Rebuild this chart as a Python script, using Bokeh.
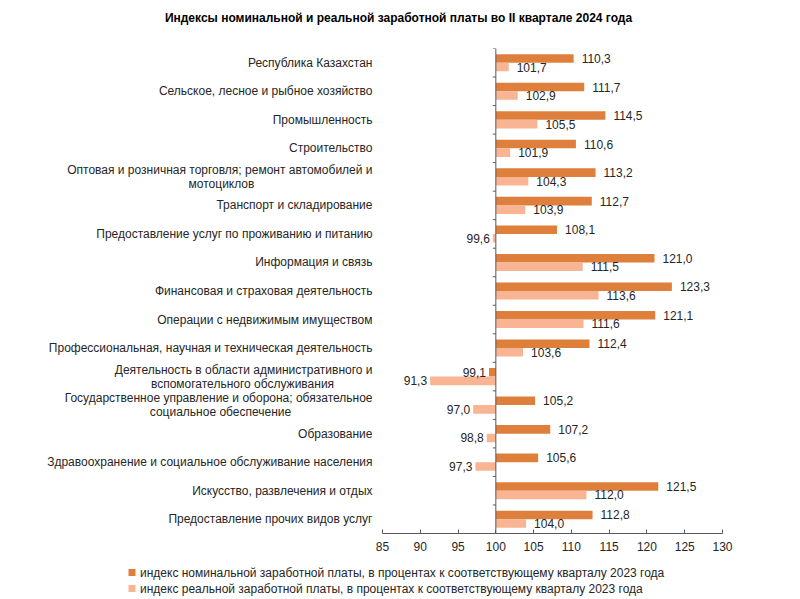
from bokeh.plotting import figure
from bokeh.models import ColumnDataSource, Range1d, FixedTicker, Span
from bokeh.core.properties import value
from bokeh.embed import file_html
from bokeh.resources import INLINE

title_text = "Индексы номинальной и реальной заработной платы во II квартале 2024 года"
categories = [
    "Республика Казахстан",
    "Сельское, лесное и рыбное хозяйство",
    "Промышленность",
    "Строительство",
    "Оптовая и розничная торговля; ремонт автомобилей и\nмотоциклов",
    "Транспорт и складирование",
    "Предоставление услуг по проживанию и питанию",
    "Информация и связь",
    "Финансовая и страховая деятельность",
    "Операции с недвижимым имуществом",
    "Профессиональная, научная и техническая деятельность",
    "Деятельность в области административного и\nвспомогательного обслуживания",
    "Государственное управление и оборона; обязательное\nсоциальное обеспечение",
    "Образование",
    "Здравоохранение и социальное обслуживание населения",
    "Искусство, развлечения и отдых",
    "Предоставление прочих видов услуг",
]
nominal = [110.3, 111.7, 114.5, 110.6, 113.2, 112.7, 108.1, 121.0, 123.3, 121.1,
           112.4, 99.1, 105.2, 107.2, 105.6, 121.5, 112.8]
real = [101.7, 102.9, 105.5, 101.9, 104.3, 103.9, 99.6, 111.5, 113.6, 111.6,
        103.6, 91.3, 97.0, 98.8, 97.3, 112.0, 104.0]
x_ticks = [85, 90, 95, 100, 105, 110, 115, 120, 125, 130]
series_names = [
    "индекс номинальной заработной платы, в процентах к соответствующему кварталу 2023 года",
    "индекс реальной заработной платы, в процентах к соответствующему кварталу 2023 года",
]
base = 100

# ---- styles / layout ----
C_NOM = "#DE7F3C"
C_REAL = "#F8B493"
TXT = "#262626"
AX = "#595959"
FONT = "Liberation Sans"
FS = "12px"
BAR_H = 0.3
W, H = 790, 598
FL, FR, FT, FB = 382, 722, 48, 533          # frame edges in px
TITLE_X, TITLE_Y = 398, 17                   # title centre in px
LEG_Y = (572, 588)                           # legend row centres in px
half_first = {4: 151, 11: 130, 12: 152}      # half width of first line (px) for centring 2nd line

n = len(categories)
idx = list(range(n))
px_x = (x_ticks[-1] - x_ticks[0]) / (FR - FL)   # data units per px (x)
px_y = n / (FB - FT)                             # data units per px (y)

p = figure(width=W, height=H, output_backend="svg", toolbar_location=None,
           x_range=Range1d(x_ticks[0], x_ticks[-1]), y_range=Range1d(n - 0.5, -0.5),
           y_axis_location=None,
           min_border_left=FL, min_border_right=W - FR, min_border_top=FT,
           min_border_bottom=H - FB)
p.outline_line_color = None
p.xgrid.visible = False
p.ygrid.visible = False

# title (as overlay text above the frame)
p.text(x=[x_ticks[0] + (TITLE_X - FL) * px_x], y=[-0.5 - (FT - TITLE_Y) * px_y],
       text=[title_text], text_align="center", text_baseline="middle",
       text_font=value(FONT), text_font_size="12px", text_font_style="bold",
       text_color="#000000", level="overlay")

def lab(v):
    return f"{v:.1f}".replace(".", ",")

src_n = ColumnDataSource(dict(y=[i - BAR_H / 2 for i in idx], v=nominal,
                              lab=[lab(v) for v in nominal],
                              al=["left" if v >= base else "right" for v in nominal],
                              off=[8 if v >= base else -3 for v in nominal]))
src_r = ColumnDataSource(dict(y=[i + BAR_H / 2 for i in idx], v=real,
                              lab=[lab(v) for v in real],
                              al=["left" if v >= base else "right" for v in real],
                              off=[8 if v >= base else -3 for v in real]))

p.hbar(y="y", left=base, right="v", height=BAR_H, source=src_n,
       fill_color=C_NOM, line_color=None)
p.hbar(y="y", left=base, right="v", height=BAR_H, source=src_r,
       fill_color=C_REAL, line_color=None)

for s in (src_n, src_r):
    p.text(x="v", y="y", text="lab", source=s, text_align="al", x_offset="off",
           text_baseline="middle", text_font=value(FONT), text_font_size=FS,
           text_color=TXT, level="overlay")

# vertical category axis at 100 with tick marks between categories
p.add_layout(Span(location=base, dimension="height", line_color=AX, line_width=1))
bounds = [i + 0.5 for i in range(-1, n - 1)]
p.segment(x0=[base - 3 * px_x] * len(bounds), x1=[base] * len(bounds),
          y0=bounds, y1=bounds, line_color=AX, line_width=1)

# category labels
lx, ly, lt, la, lo = [], [], [], [], []
for i, c in enumerate(categories):
    lines = c.split("\n")
    if len(lines) == 1:
        lx.append(x_ticks[0]); ly.append(i); lt.append(c); la.append("right"); lo.append(-10)
    else:
        lx.append(x_ticks[0]); ly.append(i - 0.245); lt.append(lines[0]); la.append("right"); lo.append(-10)
        lx.append(x_ticks[0]); ly.append(i + 0.245); lt.append(lines[1]); la.append("center")
        lo.append(-10 - half_first.get(i, 100))
p.text(x="x", y="y", text="t", text_align="a", x_offset="o",
       source=ColumnDataSource(dict(x=lx, y=ly, t=lt, a=la, o=lo)),
       text_baseline="middle", text_font=value(FONT), text_font_size=FS,
       text_color=TXT, level="overlay")

xa = p.xaxis[0]
xa.ticker = FixedTicker(ticks=x_ticks)
xa.major_tick_in = 4
xa.major_tick_out = 0
xa.minor_tick_line_color = None
xa.axis_line_color = AX
xa.major_tick_line_color = AX
xa.major_label_text_font = FONT
xa.major_label_text_font_size = FS
xa.major_label_text_color = TXT
xa.major_label_standoff = 8

# legend (drawn below the frame)
leg_x = x_ticks[0] - (FL - 131.5) * px_x
leg_y = [n - 0.5 + (yy - FB) * px_y for yy in LEG_Y]
p.rect(x=[leg_x, leg_x], y=leg_y, width=7, height=7, width_units="screen",
       height_units="screen", fill_color=[C_NOM, C_REAL], line_color=None, level="overlay")
p.text(x=[leg_x, leg_x], y=leg_y, text=series_names, x_offset=8,
       text_baseline="middle", text_align="left", text_font=value(FONT),
       text_font_size=FS, text_color=TXT, level="overlay")

open("out.html", "w").write(file_html(p, INLINE))
